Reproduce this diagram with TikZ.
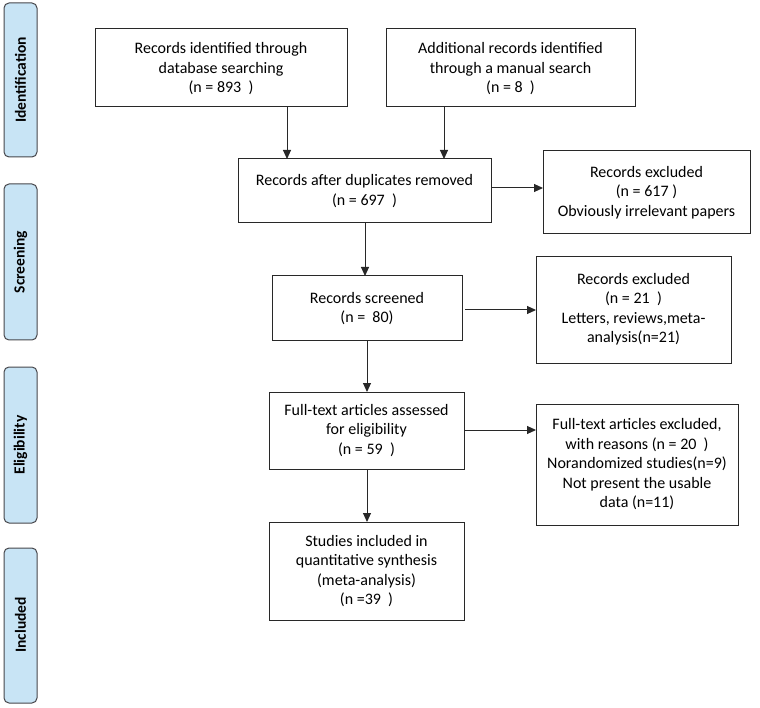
\documentclass[tikz,border=0pt]{standalone}
\usepackage{fontspec}
\setmainfont{Carlito}
\usetikzlibrary{arrows.meta}
\definecolor{sidefill}{RGB}{200,228,245}
\definecolor{sidedraw}{RGB}{70,70,75}
\definecolor{boxdraw}{RGB}{40,40,40}
\begin{document}
\begin{tikzpicture}[x=1pt,y=-1pt,
  sidebar/.style={draw=sidedraw,fill=sidefill,rounded corners=5pt,line width=1pt},
  sidelabel/.style={rotate=90,font=\fontsize{15.5}{18}\selectfont\bfseries},
  flowbox/.style={draw=boxdraw,line width=1pt,align=center,font=\fontsize{16}{19.5}\selectfont},
  arr/.style={draw=boxdraw,line width=1pt,-{Triangle[length=9pt,width=8pt]}}]
\useasboundingbox (0,0) rectangle (760,708);
% sidebars
\draw[sidebar] (4,3) rectangle (37,157);
\node[sidelabel] (sid) at (20.5,80) {Identification};
\draw[sidebar] (4,184) rectangle (37,340);
\node[sidelabel] (sscr) at (20.5,262) {Screening};
\draw[sidebar] (4,367) rectangle (37,523);
\node[sidelabel] (selig) at (20.5,445) {Eligibility};
\draw[sidebar] (4,548) rectangle (37,703);
\node[sidelabel] (sinc) at (20.5,625) {Included};
% boxes
\draw[flowbox] (95,29) rectangle (347,107);
\node[flowbox,draw=none] (b1) at (221,69) {Records identified through\\database searching\\(n = 893\ \ )};
\coordinate (b1s) at (287,107);
\draw[flowbox] (386,29) rectangle (635,107);
\node[flowbox,draw=none] (b2) at (510.5,69) {Additional records identified\\through a manual search\\(n = 8\ \ )};
\coordinate (b2s) at (444,107);
\draw[flowbox] (238,159) rectangle (491,223);
\node[flowbox,draw=none] (b3) at (364.5,191) {Records after duplicates removed\\(n = 697\ \ )};
\coordinate (b3a) at (287,159);
\coordinate (b3b) at (444,159);
\coordinate (b3e) at (491,188);
\coordinate (b3s) at (365,223);
\draw[flowbox] (543,151) rectangle (750,234);
\node[flowbox,draw=none] (e1) at (646.5,192.5) {Records excluded\\(n = 617 )\\Obviously irrelevant papers};
\coordinate (e1w) at (543,188);
\draw[flowbox] (272,276) rectangle (462,341);
\node[flowbox,draw=none] (b4) at (367,308.5) {Records screened\\(n =\ \ 80)};
\coordinate (b4n) at (365,276);
\coordinate (b4e) at (465,310);
\coordinate (b4s) at (367,341);
\draw[flowbox] (536,257) rectangle (731,364);
\node[flowbox,draw=none] (e2) at (633.5,309) {Records excluded\\(n = 21\ \ )\\Letters, reviews,meta-\\analysis(n=21)};
\coordinate (e2w) at (536,310);
\draw[flowbox] (269,392) rectangle (464,469);
\node[flowbox,draw=none] (b5) at (366.5,430.5) {Full-text articles assessed\\for eligibility\\(n = 59\ \ )};
\coordinate (b5n) at (367,392);
\coordinate (b5e) at (464,430);
\coordinate (b5s) at (367,469);
\draw[flowbox] (536,404) rectangle (738,525);
\node[flowbox,draw=none] (e3) at (637,464.5) {Full-text articles excluded,\\with reasons (n = 20\ \ )\\Norandomized studies(n=9)\\Not present the usable\\data (n=11)};
\coordinate (e3w) at (536,430);
\draw[flowbox] (269,522) rectangle (464,620);
\node[flowbox,draw=none] (b6) at (366.5,571) {Studies included in\\quantitative synthesis\\(meta-analysis)\\(n =39\ \ )};
\coordinate (b6n) at (367,522);
% arrows
\draw[arr] (b1s) -- (b3a);
\draw[arr] (b2s) -- (b3b);
\draw[arr] (b3e) -- (e1w);
\draw[arr] (b3s) -- (b4n);
\draw[arr] (b4e) -- (e2w);
\draw[arr] (b4s) -- (b5n);
\draw[arr] (b5e) -- (e3w);
\draw[arr] (b5s) -- (b6n);
\end{tikzpicture}
\end{document}
